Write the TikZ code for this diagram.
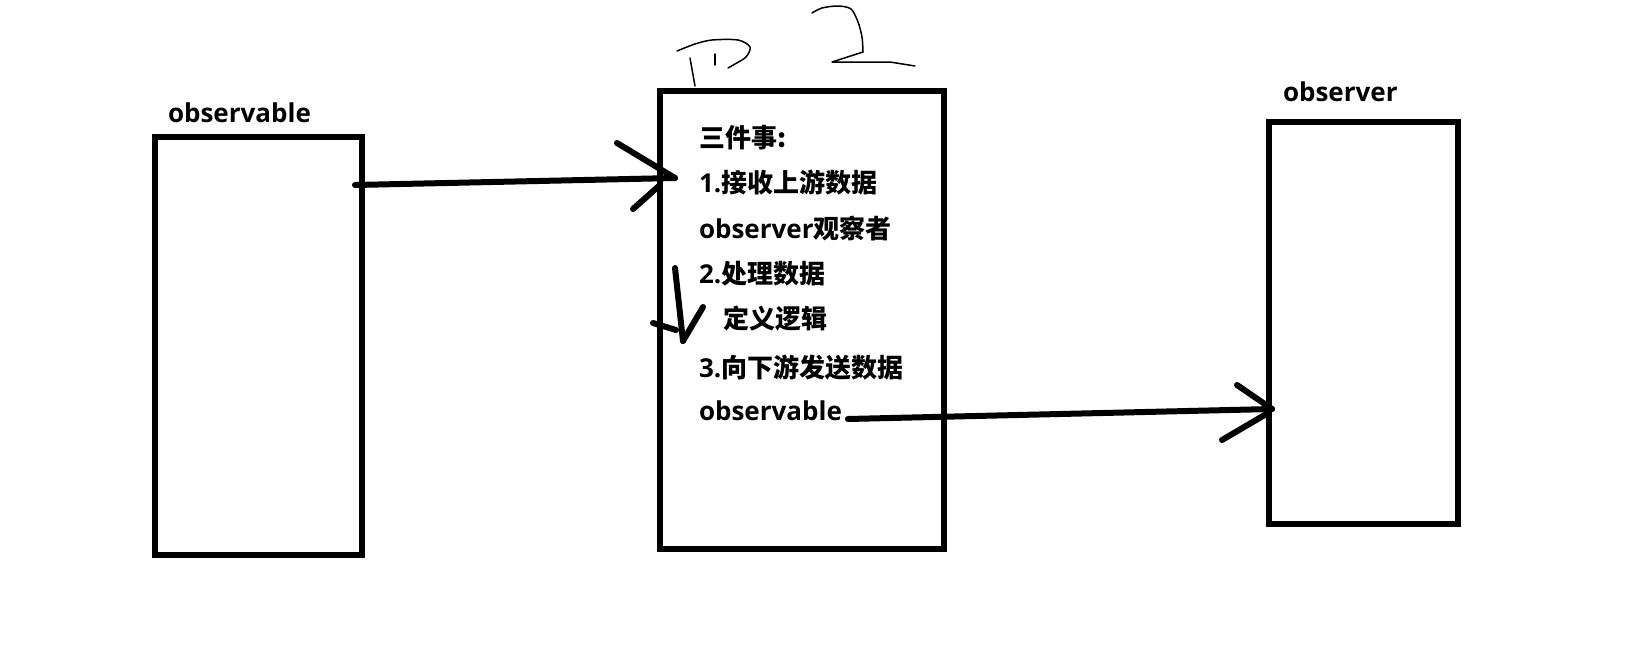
\documentclass[tikz,border=0pt]{standalone}
\usepackage{fontspec}
\setmainfont{Open Sans}
\newfontfamily\cjk{Noto Sans CJK SC}
\newcommand\hanzi[1]{{\cjk #1}}
\usetikzlibrary{positioning}

\begin{document}
\begin{tikzpicture}[x=0.02cm, y=-0.02cm, line cap=round, line join=round,
  every node/.style={font=\bfseries\fontsize{14.8pt}{18pt}\selectfont, inner sep=0pt, outer sep=0pt},
  box/.style={draw, line width=0.12cm, line join=miter, minimum width=#1},
  stroke/.style={line width=0.12cm},
  scribble/.style={line width=0.03cm}]
  \useasboundingbox (0,0) rectangle (1652,670);
  % boxes
  \node[box=4.14cm, minimum height=8.36cm] (src) at (258.5,346) {};
  \node[box=5.68cm, minimum height=9.18cm] (mid) at (802,320) {};
  \node[box=3.78cm, minimum height=8.04cm] (dst) at (1363.5,323) {};
  % labels
  \node[anchor=base west] (srclbl) at (168,122) {observable};
  \node[anchor=base west] (dstlbl) at (1283,101) {observer};
  % text in the middle box
  \node[anchor=base west] (l0) at (699,147) {\hanzi{三件事:}};
  \node[anchor=base west] (l1) at (699,192) {1.\hanzi{接收上游数据}};
  \node[anchor=base west] (l2) at (699,238) {observer\hanzi{观察者}};
  \node[anchor=base west] (l3) at (699,283) {2.\hanzi{处理数据}};
  \node[anchor=base west] (l4) at (723,328) {\hanzi{定义逻辑}};
  \node[anchor=base west] (l5) at (699,377) {3.\hanzi{向下游发送数据}};
  \node[anchor=base west] (l6) at (699,420) {observable};
  % arrow into the middle box
  \coordinate (tail1) at (355,185);
  \coordinate (tip1) at (675,178);
  \draw[stroke] (tail1) -- (tip1);
  \draw[stroke] (tip1) -- ++(-58,-35);
  \draw[stroke] (tip1) ++(-15,7) -- ++(-27,24);
  % arrow out to the observer
  \coordinate (tail2) at ([xshift=0.12cm]l6.east |- 0,419);
  \coordinate (tip2) at (1272,409);
  \draw[stroke] (tail2) -- (tip2);
  \draw[stroke] (tip2) -- ++(-35,-24);
  \draw[stroke] (tip2) ++(-4,4) -- ++(-46,27);
  % down arrow
  \coordinate (top3) at (675,268);
  \coordinate (tip3) at (683,341);
  \draw[stroke] (top3) -- (tip3);
  \draw[stroke] (tip3) -- ++(20,-34);
  \draw[stroke] (tip3) ++(-7,-11) -- ++(-23,-7);
  % P2 scribble
  \draw[scribble] (690,58) -- (695,86);
  \draw[scribble] plot[smooth] coordinates {(677,51) (695,44) (712,40) (738,40) (750,47) (746,57) (735,64) (728,68)};
  \draw[scribble] (715,54) -- (715,65);
  \draw[scribble] plot[smooth] coordinates {(812,13) (822,8) (838,6) (851,9) (858,22) (862,37) (863,52)};
  \draw[scribble] (863,52) -- (832,62) -- (890,62) -- (915,66);
\end{tikzpicture}
\end{document}
